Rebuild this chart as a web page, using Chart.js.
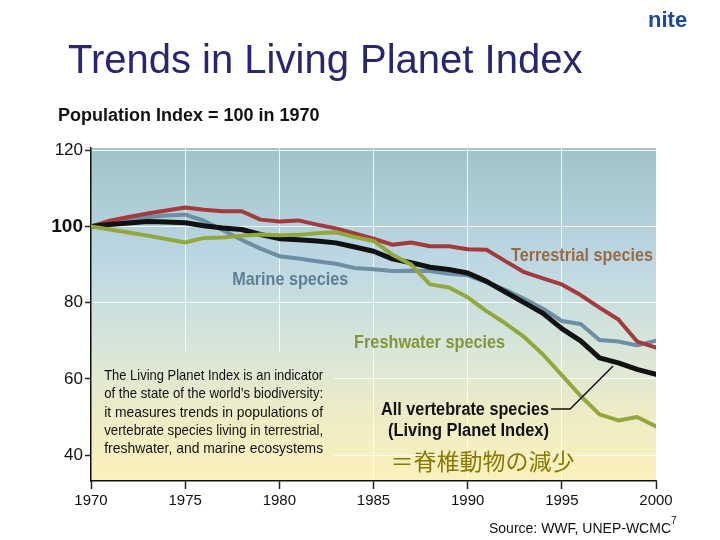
<!DOCTYPE html>
<html>
<head>
<meta charset="utf-8">
<script src="https://cdn.jsdelivr.net/npm/chart.js@4.4.1/dist/chart.umd.min.js"></script>
<style>
  html,body{margin:0;padding:0;background:#fff;width:720px;height:540px;overflow:hidden;position:relative;font-family:'Liberation Sans',Arial,sans-serif}
  #wrap{position:absolute;left:0;top:0;width:720px;height:540px}
  .t{position:absolute;white-space:nowrap;line-height:1}
  #title{left:68px;top:39px;font-size:40px;color:#262673}
  #logo{left:648px;top:9px;font-size:22px;font-weight:bold;color:#1a4a9c}
  #sub{left:58px;top:106px;font-size:18px;font-weight:bold;color:#111}
  #src{left:489px;top:521px;font-size:14px;color:#111}
  #pg{left:671px;top:516px;font-size:10px;color:#111}
</style>
</head>
<body>
<div id="wrap"><canvas id="c" width="720" height="540"></canvas></div>
<div class="t" id="title">Trends in Living Planet Index</div>
<div class="t" id="logo">nite</div>
<div class="t" id="sub">Population Index = 100 in 1970</div>
<div class="t" id="src">Source: WWF, UNEP-WCMC</div>
<div class="t" id="pg">7</div>
<script>
'use strict';
/* ── data (index, 1970 = 100) ── */
const years=[1970,1971,1972,1973,1974,1975,1976,1977,1978,1979,1980,1981,1982,1983,1984,1985,1986,1987,1988,1989,1990,1991,1992,1993,1994,1995,1996,1997,1998,1999,2000];
const terrestrial=[100,101.5,102.5,103.4,104.2,105,104.4,104,104,101.8, 101.3,101.6,100.5,99.5,98.2,96.8,95.2,95.8,94.8,94.8, 94,93.9,90.9,88,86.4,84.8,82,78.7,75.6,69.8, 68.2];
const marine=[100,100.8,101.6,102.4,102.9,103.1,101.5,99,96.5,94.2, 92.2,91.6,90.9,90.2,89.1,88.8,88.3,88.4,88.3,87.6, 87.2,85.4,83.4,81,78.4,75.2,74.4,70.2,69.8,68.8, 70];
const freshwater=[100,99.2,98.4,97.6,96.7,95.8,97,97.1,97.6,97.9, 97.7,97.8,98.2,98.5,97.2,96.2,92.6,90,84.8,84, 81.4,77.8,74.6,71,66.4,61,55.5,50.7,49.1,50, 47.5];
const vertebrate=[100,100.5,100.9,101.3,101.2,101,100.2,99.6,99.2,97.9, 96.8,96.5,96.2,95.7,94.6,93.5,91.5,90.5,89.3,88.7, 87.8,85.6,82.8,80,77.2,73.2,70,65.5,64.2,62.5, 61.2];
const xTicks=[1970,1975,1980,1985,1990,1995,2000];
const yTicks=[40,60,80,100,120];
const infoLines=['The Living Planet Index is an indicator','of the state of the world\u2019s biodiversity:','it measures trends in populations of','vertebrate species living in terrestrial,','freshwater, and marine ecosystems'];

const NARROW="'Liberation Sans Narrow','Arial Narrow','Liberation Sans',sans-serif";
const C={terr:'#a33a3c',mar:'#6d8ea5',fresh:'#93a83c',all:'#111111',
  terrTxt:'#9a6a42',marTxt:'#5e7f96',freshTxt:'#84963a',jp:'#8a7806'};

const pts=arr=>years.map((y,i)=>({x:y,y:arr[i]}));
const ds=(label,arr,color,w)=>({label,data:pts(arr),borderColor:color,backgroundColor:color,borderWidth:w,pointRadius:0,tension:0,borderJoinStyle:'round',borderCapStyle:'round'});

function bgGrad(ctx,a){
  const g=ctx.createLinearGradient(0,a.top,0,a.bottom);
  g.addColorStop(0,'#9fc3c7'); g.addColorStop(.33,'#bcd7e3');
  g.addColorStop(.6,'#d7e6d9'); g.addColorStop(.8,'#eeecc6'); g.addColorStop(1,'#fbf1bb');
  return g;
}

const decor={
  id:'decor',
  beforeDraw(chart){
    const {ctx,chartArea:a}=chart;
    ctx.save(); ctx.fillStyle=bgGrad(ctx,a); ctx.fillRect(a.left,a.top,a.right-a.left,a.bottom-a.top); ctx.restore();
  },
  beforeDatasetsDraw(chart){
    const {ctx,chartArea:a,scales:{x,y}}=chart;
    // info box hides grid lines
    const l=x.getPixelForValue(1970.1), t=y.getPixelForValue(67.05), r=x.getPixelForValue(1982.9);
    ctx.save(); ctx.fillStyle=bgGrad(ctx,a); ctx.fillRect(l,t,r-l,a.bottom-1-t);
    ctx.fillStyle='#111'; ctx.font='15px '+NARROW; ctx.textBaseline='alphabetic';
    const base=[59.7,55.0,50.0,45.3,40.5];
    infoLines.forEach((s,i)=>ctx.fillText(s,x.getPixelForValue(1970.7),y.getPixelForValue(base[i]),219));
    ctx.restore();
  },
  afterDatasetsDraw(chart){
    const {ctx,scales:{x,y}}=chart;
    const P=(yr,v)=>[x.getPixelForValue(yr),y.getPixelForValue(v)];
    ctx.save(); ctx.textBaseline='alphabetic'; ctx.textAlign='left';
    const lab=(s,yr,v,color,w,size)=>{ctx.fillStyle=color; ctx.font='bold '+size+'px '+NARROW; const [px,py]=P(yr,v); ctx.fillText(s,px,py,w);};
    lab('Terrestrial species',1992.3,90.9,C.terrTxt,142,19);
    lab('Marine species',1977.5,84.6,C.marTxt,116,19);
    lab('Freshwater species',1983.97,68.1,C.freshTxt,151,19);
    lab('All vertebrate species',1985.4,50.5,'#111',168,18);
    lab('(Living Planet Index)',1985.77,45.0,'#111',161,18);
    // leader line
    ctx.strokeStyle='#111'; ctx.lineWidth=1.5; ctx.beginPath();
    let p=P(1994.43,52.1); ctx.moveTo(p[0],p[1]);
    p=P(1995.44,52.1); ctx.lineTo(p[0],p[1]);
    p=P(1997.72,63.4); ctx.lineTo(p[0],p[1]); ctx.stroke();
    // japanese note
    ctx.fillStyle=C.jp; ctx.font="23px 'Noto Sans CJK JP',sans-serif"; ctx.textBaseline='middle';
    p=P(1985.9,38.45); ctx.fillText('\uFF1D\u810A\u690E\u52D5\u7269\u306E\u6E1B\u5C11',p[0],p[1],188);
    ctx.restore();
  }
};

new Chart(document.getElementById('c'),{
  type:'line',
  data:{datasets:[
    ds('Freshwater species',freshwater,C.fresh,4),
    ds('All vertebrate species',vertebrate,C.all,5),
    ds('Terrestrial species',terrestrial,C.terr,4),
    ds('Marine species',marine,C.mar,4)
  ]},
  options:{
    responsive:false,animation:false,
    layout:{padding:{left:41,top:148,right:64,bottom:19}},
    plugins:{legend:{display:false},tooltip:{enabled:false}},
    scales:{
      x:{type:'linear',min:1970,max:2000,
        afterBuildTicks:s=>{s.ticks=xTicks.map(v=>({value:v}));},
        afterFit:s=>{s.height=40;},
        grid:{color:c=>(c.tick&&(c.tick.value===1970||c.tick.value===2000))?'rgba(0,0,0,0)':'rgba(255,255,255,.85)',lineWidth:1,tickColor:'#222',tickLength:8,tickWidth:1.5},
        border:{display:true,color:'#111',width:1.5},
        ticks:{color:'#111',font:{family:NARROW,size:15},padding:3,maxRotation:0,callback:v=>String(v)}},
      y:{min:33.2,max:120.6,
        afterBuildTicks:s=>{s.ticks=yTicks.map(v=>({value:v}));},
        afterFit:s=>{s.width=50;},
        grid:{color:'rgba(255,255,255,.85)',lineWidth:1,tickColor:'#222',tickLength:6,tickWidth:1.5},
        border:{display:true,color:'#111',width:1.5},
        ticks:{color:'#111',padding:2,callback:v=>String(v),
          font:c=>c.tick&&c.tick.value===100?{family:NARROW,size:19,weight:'bold'}:{family:NARROW,size:17}}}
    }
  },
  plugins:[decor]
});
</script>
</body>
</html>
